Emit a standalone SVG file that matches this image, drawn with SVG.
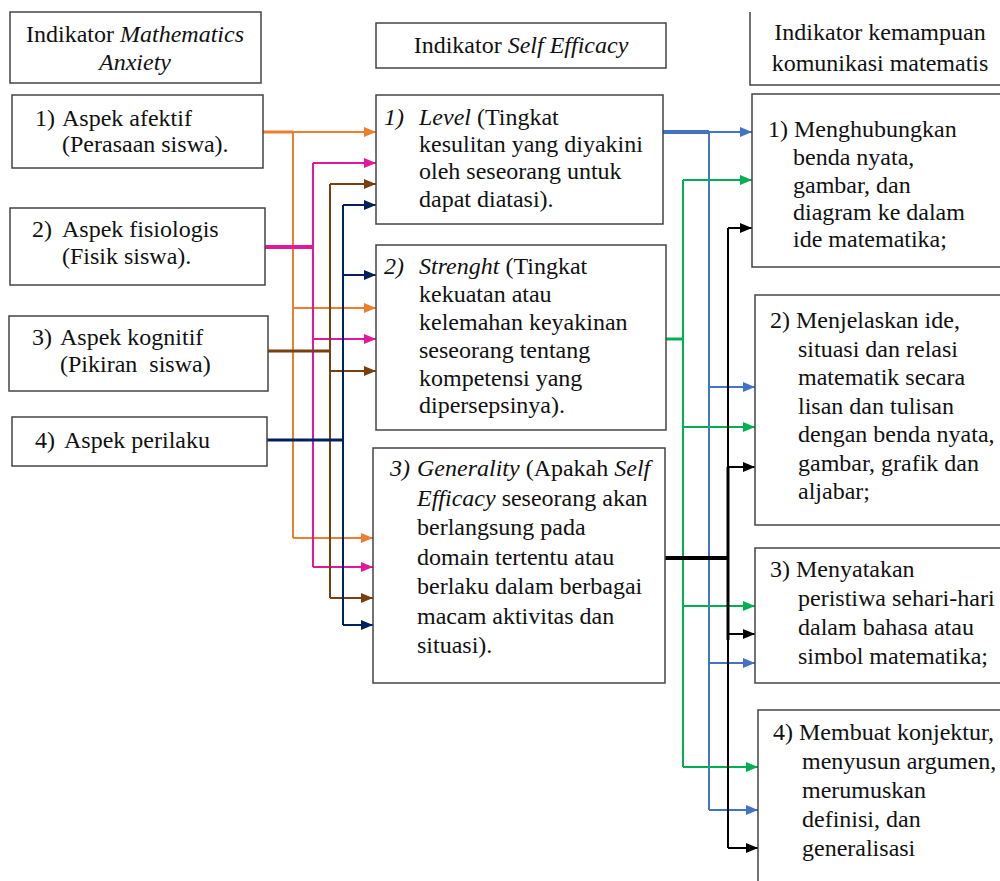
<svg xmlns="http://www.w3.org/2000/svg" width="1000" height="881" viewBox="0 0 1000 881" font-family="'Liberation Serif', Tinos, 'Times New Roman', 'DejaVu Serif', serif">
<style>
text{font-family:"Liberation Serif",Tinos,"Times New Roman","DejaVu Serif",serif;font-size:24px;fill:#111;white-space:pre}
.i{font-style:italic}
.box{fill:#fff;stroke:#444;stroke-width:1.5}
.c{fill:none;stroke-width:2}
.t3{stroke-width:3}.t4{stroke-width:4}
.or{stroke:#ED7D31}.mg{stroke:#E0189C}.br{stroke:#7A3F0E}.nv{stroke:#002060}
.bl{stroke:#4472C4}.gr{stroke:#00B050}.bk{stroke:#000}
</style>
<defs>
<marker id="aor" markerUnits="userSpaceOnUse" markerWidth="12" markerHeight="10" refX="12" refY="5" orient="auto"><path d="M0,0 L12,5 L0,10 z" fill="#ED7D31"/></marker>
<marker id="amg" markerUnits="userSpaceOnUse" markerWidth="12" markerHeight="10" refX="12" refY="5" orient="auto"><path d="M0,0 L12,5 L0,10 z" fill="#E0189C"/></marker>
<marker id="abr" markerUnits="userSpaceOnUse" markerWidth="12" markerHeight="10" refX="12" refY="5" orient="auto"><path d="M0,0 L12,5 L0,10 z" fill="#7A3F0E"/></marker>
<marker id="anv" markerUnits="userSpaceOnUse" markerWidth="12" markerHeight="10" refX="12" refY="5" orient="auto"><path d="M0,0 L12,5 L0,10 z" fill="#002060"/></marker>
<marker id="abl" markerUnits="userSpaceOnUse" markerWidth="12" markerHeight="10" refX="12" refY="5" orient="auto"><path d="M0,0 L12,5 L0,10 z" fill="#4472C4"/></marker>
<marker id="agr" markerUnits="userSpaceOnUse" markerWidth="12" markerHeight="10" refX="12" refY="5" orient="auto"><path d="M0,0 L12,5 L0,10 z" fill="#00B050"/></marker>
<marker id="abk" markerUnits="userSpaceOnUse" markerWidth="12" markerHeight="10" refX="12" refY="5" orient="auto"><path d="M0,0 L12,5 L0,10 z" fill="#000"/></marker>
</defs>
<rect width="1000" height="881" fill="#fff"/>

<g id="connectors">
<!-- orange -->
<path class="c or t3" d="M263 132 H293"/>
<path class="c or" d="M293 132 V538"/>
<path class="c or" d="M293 132 H376" marker-end="url(#aor)"/>
<path class="c or" d="M293 308 H376" marker-end="url(#aor)"/>
<path class="c or" d="M293 538 H373" marker-end="url(#aor)"/>
<!-- magenta -->
<path class="c mg t4" d="M265 247 H313"/>
<path class="c mg" d="M313 163 V567"/>
<path class="c mg" d="M313 163 H376" marker-end="url(#amg)"/>
<path class="c mg" d="M313 339 H376" marker-end="url(#amg)"/>
<path class="c mg" d="M313 567 H373" marker-end="url(#amg)"/>
<!-- brown -->
<path class="c br t3" d="M268 351 H330"/>
<path class="c br" d="M330 184 V598"/>
<path class="c br" d="M330 184 H376" marker-end="url(#abr)"/>
<path class="c br" d="M330 371 H376" marker-end="url(#abr)"/>
<path class="c br" d="M330 598 H373" marker-end="url(#abr)"/>
<!-- navy -->
<path class="c nv t3" d="M267 440 H343"/>
<path class="c nv" d="M343 205 V625"/>
<path class="c nv" d="M343 205 H376" marker-end="url(#anv)"/>
<path class="c nv" d="M343 275 H376" marker-end="url(#anv)"/>
<path class="c nv" d="M343 625 H373" marker-end="url(#anv)"/>
<!-- blue -->
<path class="c bl t4" d="M663 132 H709"/>
<path class="c bl" d="M709 132 V810"/>
<path class="c bl" d="M709 132 H752" marker-end="url(#abl)"/>
<path class="c bl" d="M709 387 H755" marker-end="url(#abl)"/>
<path class="c bl" d="M709 663 H755" marker-end="url(#abl)"/>
<path class="c bl" d="M709 810 H758" marker-end="url(#abl)"/>
<!-- green -->
<path class="c gr t3" d="M666 339 H683"/>
<path class="c gr" d="M683 180 V767"/>
<path class="c gr" d="M683 180 H752" marker-end="url(#agr)"/>
<path class="c gr" d="M683 427 H755" marker-end="url(#agr)"/>
<path class="c gr" d="M683 606 H755" marker-end="url(#agr)"/>
<path class="c gr" d="M683 767 H758" marker-end="url(#agr)"/>
<!-- black -->
<path class="c bk t4" d="M665 558 H728"/>
<path class="c bk" d="M728 228 V848"/>
<path class="c bk t3" d="M728 467 V640"/>
<path class="c bk" d="M728 228 H752" marker-end="url(#abk)"/>
<path class="c bk" d="M728 467 H755" marker-end="url(#abk)"/>
<path class="c bk" d="M728 634 H755" marker-end="url(#abk)"/>
<path class="c bk" d="M728 848 H758" marker-end="url(#abk)"/>
</g>

<g id="left-header">
<rect class="box" x="10" y="12" width="251" height="71"/>
<text x="135" y="42" text-anchor="middle">Indikator <tspan class="i">Mathematics</tspan></text>
<text x="135" y="70" text-anchor="middle" class="i">Anxiety</text>
</g>
<g id="left-1">
<rect class="box" x="12" y="95" width="251" height="73"/>
<text y="126"><tspan x="35">1)</tspan><tspan x="62">Aspek afektif</tspan></text>
<text x="62" y="152">(Perasaan siswa).</text>
</g>
<g id="left-2">
<rect class="box" x="10" y="208" width="255" height="77"/>
<text y="237"><tspan x="32">2)</tspan><tspan x="62">Aspek fisiologis</tspan></text>
<text x="62" y="264">(Fisik siswa).</text>
</g>
<g id="left-3">
<rect class="box" x="9" y="316" width="259" height="75"/>
<text y="345"><tspan x="32">3)</tspan><tspan x="60">Aspek kognitif</tspan></text>
<text x="60" y="372">(Pikiran  siswa)</text>
</g>
<g id="left-4">
<rect class="box" x="12" y="417" width="255" height="49"/>
<text y="448"><tspan x="35">4)</tspan><tspan x="64">Aspek perilaku</tspan></text>
</g>

<g id="mid-header">
<rect class="box" x="376" y="23" width="290" height="45"/>
<text x="521" y="53" text-anchor="middle">Indikator <tspan class="i">Self Efficacy</tspan></text>
</g>
<g id="mid-1">
<rect class="box" x="376" y="95" width="287" height="129"/>
<text y="125"><tspan x="384" class="i">1)</tspan><tspan x="419" class="i">Level</tspan> (Tingkat</text>
<text x="419" y="152">kesulitan yang diyakini</text>
<text x="419" y="179">oleh seseorang untuk</text>
<text x="419" y="207">dapat diatasi).</text>
</g>
<g id="mid-2">
<rect class="box" x="376" y="245" width="290" height="185"/>
<text y="274"><tspan x="384" class="i">2)</tspan><tspan x="419" class="i">Strenght</tspan> (Tingkat</text>
<text x="419" y="302">kekuatan atau</text>
<text x="419" y="330">kelemahan keyakinan</text>
<text x="419" y="358">seseorang tentang</text>
<text x="419" y="386">kompetensi yang</text>
<text x="419" y="413">dipersepsinya).</text>
</g>
<g id="mid-3">
<rect class="box" x="373" y="448" width="292" height="235"/>
<text y="476"><tspan x="390" class="i">3)</tspan><tspan x="417" class="i">Generality</tspan> (Apakah <tspan class="i">Self</tspan></text>
<text x="417" y="506"><tspan class="i">Efficacy</tspan> seseorang akan</text>
<text x="417" y="535">berlangsung pada</text>
<text x="417" y="565">domain tertentu atau</text>
<text x="417" y="594">berlaku dalam berbagai</text>
<text x="417" y="624">macam aktivitas dan</text>
<text x="417" y="653">situasi).</text>
</g>

<g id="right-header">
<path d="M750 12 V85 H1000" fill="none" stroke="#444" stroke-width="1.5"/>
<text x="880" y="40" text-anchor="middle">Indikator kemampuan</text>
<text x="880" y="71" text-anchor="middle">komunikasi matematis</text>
</g>
<g id="right-1">
<rect class="box" x="752" y="94" width="260" height="173"/>
<text x="768" y="137">1) Menghubungkan</text>
<text x="793" y="165">benda nyata,</text>
<text x="793" y="193">gambar, dan</text>
<text x="793" y="220">diagram ke dalam</text>
<text x="793" y="247">ide matematika;</text>
</g>
<g id="right-2">
<rect class="box" x="755" y="295" width="260" height="230"/>
<text x="770" y="328">2) Menjelaskan ide,</text>
<text x="798" y="357">situasi dan relasi</text>
<text x="798" y="385">matematik secara</text>
<text x="798" y="414">lisan dan tulisan</text>
<text x="798" y="442">dengan benda nyata,</text>
<text x="798" y="471">gambar, grafik dan</text>
<text x="798" y="499">aljabar;</text>
</g>
<g id="right-3">
<rect class="box" x="755" y="548" width="260" height="135"/>
<text x="770" y="577">3) Menyatakan</text>
<text x="798" y="606">peristiwa sehari-hari</text>
<text x="798" y="635">dalam bahasa atau</text>
<text x="798" y="664">simbol matematika;</text>
</g>
<g id="right-4">
<rect class="box" x="758" y="710" width="260" height="190"/>
<text x="773" y="740">4) Membuat konjektur,</text>
<text x="802" y="769">menyusun argumen,</text>
<text x="802" y="798">merumuskan</text>
<text x="802" y="827">definisi, dan</text>
<text x="802" y="856">generalisasi</text>
</g>
</svg>
